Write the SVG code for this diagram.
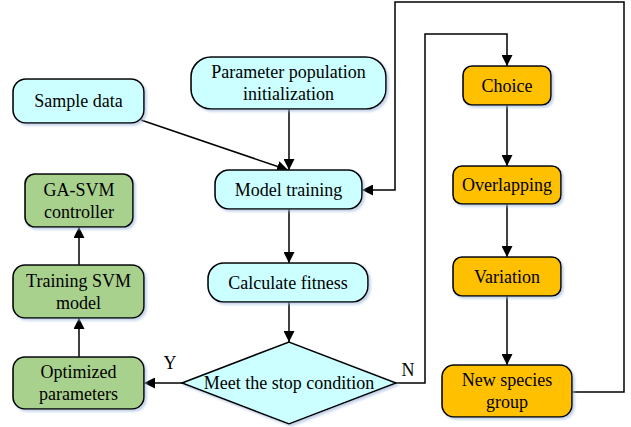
<svg xmlns="http://www.w3.org/2000/svg" width="631" height="427" viewBox="0 0 631 427">
<style>
.n{stroke:#000;stroke-width:1.6;filter:url(#sh)}
.c{fill:#CCFFFF}
.g{fill:#A9D18E}
.o{fill:#FFC000}
text{font-family:"Liberation Serif","Times New Roman",serif;font-size:18px;fill:#000;text-anchor:middle}
.e path,.e line,.e polyline{fill:none;stroke:#000;stroke-width:1.5;marker-end:url(#ah)}
</style>
<defs>
<marker id="ah" viewBox="0 0 10 10" refX="10" refY="5" markerWidth="11" markerHeight="11" markerUnits="userSpaceOnUse" orient="auto">
<path d="M0,0 L10,5 L0,10 z" fill="#000"/>
</marker>
<filter id="sh" x="-10%" y="-10%" width="130%" height="140%">
<feDropShadow dx="2" dy="2" stdDeviation="1" flood-color="#9DB8DC" flood-opacity="0.6"/>
</filter>
</defs>
<rect width="631" height="427" fill="#fff"/>
<g class="e" id="connectors">
<line x1="141" y1="120" x2="288" y2="170"/>
<line x1="289" y1="109" x2="289" y2="170"/>
<line x1="289" y1="209" x2="289" y2="263"/>
<line x1="289" y1="302" x2="289" y2="342"/>
<line x1="182" y1="383" x2="144" y2="383"/>
<polyline points="396,383 425,383 425,34 507,34 507,66"/>
<line x1="507" y1="105" x2="507" y2="166"/>
<line x1="507" y1="204" x2="507" y2="257"/>
<line x1="507" y1="296" x2="507" y2="365"/>
<polyline points="572,392 624,392 624,2 395,2 395,190 362,190"/>
<line x1="79" y1="357" x2="79" y2="318"/>
<line x1="79" y1="265" x2="79" y2="227"/>
</g>
<g id="sample"><rect class="n c" x="13" y="79" width="131" height="44" rx="13"/><text x="78.5" y="107">Sample data</text></g>
<g id="param"><rect class="n c" x="191" y="57" width="195" height="52" rx="20"/><text x="288.5" y="78">Parameter population</text><text x="288.5" y="100">initialization</text></g>
<g id="train"><rect class="n c" x="215" y="170" width="147" height="39" rx="14"/><text x="288.5" y="195.5">Model training</text></g>
<g id="fitness"><rect class="n c" x="208" y="263" width="160" height="39" rx="16"/><text x="288" y="288.5">Calculate fitness</text></g>
<g id="stop"><polygon class="n c" points="182,383 289,342 396,383 289,424"/><text x="289" y="389">Meet the stop condition</text></g>
<g id="gasvm"><rect class="n g" x="25" y="174" width="108" height="53" rx="10"/><text x="79" y="195.5">GA-SVM</text><text x="79" y="217.5">controller</text></g>
<g id="trainsvm"><rect class="n g" x="13" y="265" width="131" height="53" rx="12"/><text x="78.5" y="286.5">Training SVM</text><text x="78.5" y="308.5">model</text></g>
<g id="optim"><rect class="n g" x="13" y="357" width="131" height="52" rx="12"/><text x="78.5" y="378">Optimized</text><text x="78.5" y="400">parameters</text></g>
<g id="choice"><rect class="n o" x="463" y="66" width="88" height="39" rx="9"/><text x="507" y="91.5">Choice</text></g>
<g id="overlap"><rect class="n o" x="453" y="166" width="108" height="38" rx="9"/><text x="507" y="191">Overlapping</text></g>
<g id="variation"><rect class="n o" x="453" y="257" width="108" height="39" rx="9"/><text x="507" y="282.5">Variation</text></g>
<g id="newspecies"><rect class="n o" x="442" y="365" width="130" height="52" rx="12"/><text x="507" y="386">New species</text><text x="507" y="408">group</text></g>
<g id="labels"><text x="170" y="369">Y</text><text x="408" y="376">N</text></g>
</svg>
